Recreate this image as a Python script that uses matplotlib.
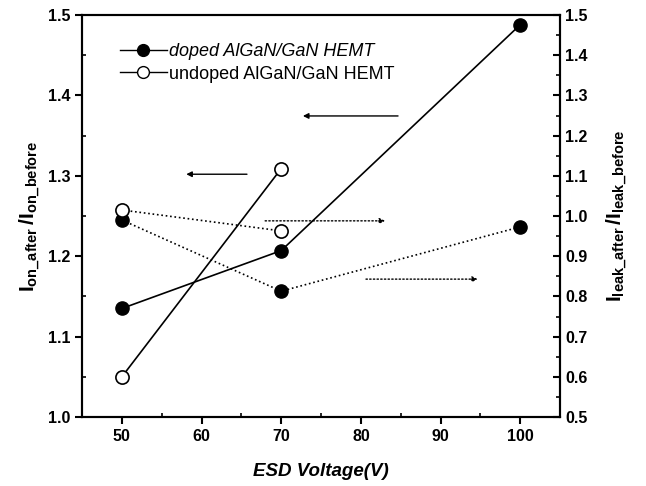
import matplotlib
matplotlib.use("Agg")
import matplotlib.pyplot as plt
from matplotlib.ticker import MultipleLocator
from matplotlib.lines import Line2D

plt.rcParams['font.family'] = ['Liberation Sans', 'DejaVu Sans']
plt.rcParams['mathtext.fontset'] = 'custom'
plt.rcParams['mathtext.rm'] = 'Liberation Sans:bold'
plt.rcParams['mathtext.bf'] = 'Liberation Sans:bold'
plt.rcParams['mathtext.it'] = 'Liberation Sans:bold'

# Data
esd_doped = [50, 70, 100]
esd_undoped = [50, 70]
ion_doped = [1.135, 1.207, 1.488]
ion_undoped = [1.05, 1.309]
ileak_doped = [0.99, 0.813, 0.973]
ileak_undoped = [1.015, 0.963]

fig = plt.figure(figsize=(6.46, 4.86), dpi=100)
ax = fig.add_axes([0.127, 0.142, 0.740, 0.827])
ax2 = ax.twinx()

ms = 9.5
ax.plot(esd_doped, ion_doped, '-', color='black', lw=1.2, marker='o',
        mfc='black', mec='black', ms=ms, zorder=3)
ax.plot(esd_undoped, ion_undoped, '-', color='black', lw=1.2, marker='o',
        mfc='white', mec='black', mew=1.2, ms=ms, zorder=3)
ax2.plot(esd_doped, ileak_doped, ':', color='black', lw=1.2, marker='o',
         mfc='black', mec='black', ms=ms, zorder=3)
ax2.plot(esd_undoped, ileak_undoped, ':', color='black', lw=1.2, marker='o',
         mfc='white', mec='black', mew=1.2, ms=ms, zorder=4)

ax.set_xlim(45, 105)
ax.set_ylim(1.0, 1.5)
ax2.set_ylim(0.5, 1.5)

ax.xaxis.set_major_locator(MultipleLocator(10))
ax.xaxis.set_minor_locator(MultipleLocator(5))
ax.yaxis.set_major_locator(MultipleLocator(0.1))
ax.yaxis.set_minor_locator(MultipleLocator(0.05))
ax2.yaxis.set_major_locator(MultipleLocator(0.1))
ax2.yaxis.set_minor_locator(MultipleLocator(0.05))

for a in (ax, ax2):
    for s in a.spines.values():
        s.set_linewidth(1.5)
ax.tick_params(axis='both', which='major', direction='out', length=5, width=1.5,
               labelsize=11.5)
ax.tick_params(axis='both', which='minor', direction='in', length=3, width=1.2)
ax2.tick_params(axis='y', which='major', direction='in', length=5, width=1.5,
                labelsize=11.5)
ax2.tick_params(axis='y', which='minor', direction='in', length=3, width=1.2)
for lab in ax.get_xticklabels() + ax.get_yticklabels() + ax2.get_yticklabels():
    lab.set_fontweight('bold')
ax.set_xticks([50, 60, 70, 80, 90, 100])
ax.set_xticklabels(['50', '60', '70', '80', '90', '100'], fontweight='bold')

ax.set_xlabel('ESD Voltage(V)', fontsize=13.5, fontweight='bold', style='italic',
              labelpad=14)
ax.set_ylabel(r'$\mathbf{I}_{\mathbf{on\_after}}\,/\mathbf{I}_{\mathbf{on\_before}}$',
              fontsize=15, labelpad=4)
ax2.set_ylabel(r'$\mathbf{I}_{\mathbf{leak\_after}}\,/\mathbf{I}_{\mathbf{leak\_before}}$',
               fontsize=15, labelpad=12)

# Legend
h1 = Line2D([], [], color='black', lw=1.0, marker='o', mfc='black', mec='black', ms=8.5)
h2 = Line2D([], [], color='black', lw=1.0, marker='o', mfc='white', mec='black', ms=8.5)
leg = ax.legend([h1, h2], ['doped AlGaN/GaN HEMT', 'undoped AlGaN/GaN HEMT'],
                loc='upper left', bbox_to_anchor=(0.079, 0.93), frameon=False,
                borderpad=0, borderaxespad=0,
                fontsize=13, handlelength=2.6, handletextpad=0.1, labelspacing=0.3)
leg.get_texts()[0].set_style('italic')

# Direction arrows
def arrow(x0, x1, y, ls):
    ax.annotate('', xy=(x1, y), xytext=(x0, y), xycoords='axes fraction',
                textcoords='axes fraction',
                arrowprops=dict(arrowstyle='-|>', color='black', lw=1.0,
                                linestyle=ls, mutation_scale=8,
                                shrinkA=0, shrinkB=0))

arrow(0.661, 0.462, 0.749, '-')
arrow(0.345, 0.218, 0.604, '-')
arrow(0.383, 0.634, 0.488, ':')
arrow(0.594, 0.828, 0.343, ':')

fig.savefig('out.png', dpi=100)
